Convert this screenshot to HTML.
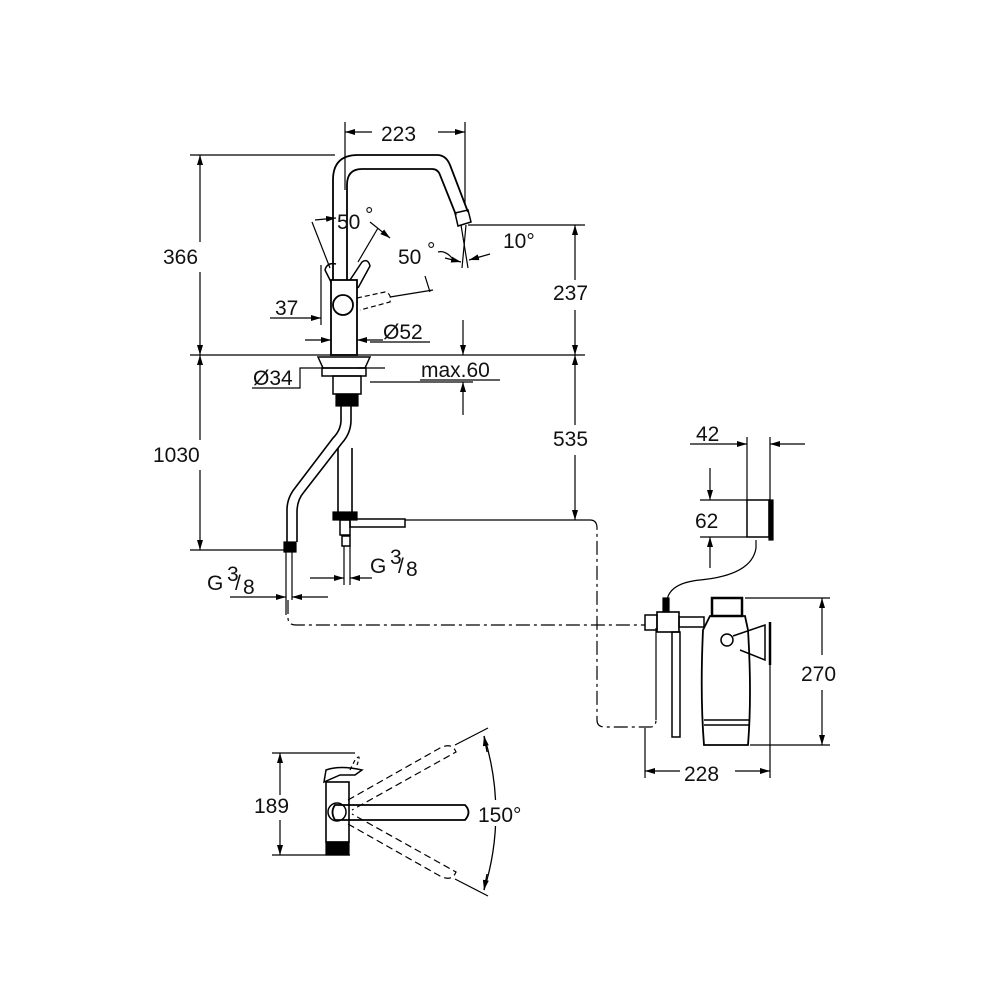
<!DOCTYPE html>
<html><head><meta charset="utf-8"><style>
html,body{margin:0;padding:0;background:#fff}
svg{display:block}
text{font-family:"Liberation Sans",sans-serif;font-size:21px;fill:#111}
</style></head><body>
<svg width="1000" height="1000" viewBox="0 0 1000 1000" xmlns="http://www.w3.org/2000/svg">
<defs>
<marker id="a" viewBox="0 0 10 6" refX="10" refY="3" markerWidth="10" markerHeight="6" markerUnits="userSpaceOnUse" orient="auto"><path d="M0,0L10,3L0,6z" fill="#000"/></marker>
</defs>
<g stroke="#000" stroke-width="1.2" fill="none">
<line x1="345" y1="122" x2="345" y2="190"/><line x1="465" y1="122" x2="465" y2="205"/>
<line x1="372" y1="132" x2="345" y2="132" marker-end="url(#a)"/>
<line x1="438" y1="132" x2="465" y2="132" marker-end="url(#a)"/>
<line x1="190" y1="155" x2="335" y2="155"/>
<line x1="200" y1="242" x2="200" y2="155" marker-end="url(#a)"/>
<line x1="200" y1="272" x2="200" y2="355" marker-end="url(#a)"/>
<line x1="200" y1="440" x2="200" y2="355" marker-end="url(#a)"/>
<line x1="200" y1="470" x2="200" y2="550" marker-end="url(#a)"/>
<line x1="190" y1="550" x2="290" y2="550"/>
<line x1="190" y1="355" x2="585" y2="355"/>
<line x1="468" y1="225" x2="585" y2="225"/>
<line x1="575" y1="280" x2="575" y2="225" marker-end="url(#a)"/>
<line x1="575" y1="310" x2="575" y2="355" marker-end="url(#a)"/>
<line x1="575" y1="425" x2="575" y2="355" marker-end="url(#a)"/>
<line x1="575" y1="455" x2="575" y2="520" marker-end="url(#a)"/>
<line x1="463" y1="320" x2="463" y2="355" marker-end="url(#a)"/>
<line x1="463" y1="415" x2="463" y2="382" marker-end="url(#a)"/>
<line x1="370" y1="382" x2="473" y2="382"/>
<line x1="420" y1="380" x2="500" y2="380"/>
<polyline points="252,388 300,388 300,368 322,368"/>
<line x1="358" y1="368" x2="385" y2="368"/>
<line x1="305" y1="340" x2="331" y2="340" marker-end="url(#a)"/>
<line x1="383" y1="340" x2="357" y2="340" marker-end="url(#a)"/>
<line x1="370" y1="342" x2="430" y2="342"/>
<line x1="270" y1="318" x2="321" y2="318" marker-end="url(#a)"/>
<line x1="321" y1="265" x2="321" y2="325"/>
<path d="M333,280 V180 Q333,155 358,155 H437 Q446,155 450,165 L468,212 M347,280 V185 Q347,169 362,169 H432 Q438,169 440,175 L456,215" stroke-width="1.8"/>
<path d="M455,213 L468,210 L471,222 L458,226 Z" stroke-width="1.5"/>
<rect x="331" y="280" width="26" height="75" stroke-width="1.8"/>
<circle cx="343" cy="305" r="10" stroke-width="1.8"/>
<path d="M350,280 L362,262 Q368,258 370,266 L358,288" stroke-width="1.5"/>
<path d="M331,282 L325,270 Q327,262 336,264" stroke-width="1.5"/>
<path d="M357,298 L385,292 Q392,294 390,302 L360,310" stroke-dasharray="5,3"/>
<line x1="312" y1="222" x2="330" y2="268"/>
<line x1="378" y1="228" x2="358" y2="262"/>
<line x1="315" y1="220" x2="336" y2="218" marker-end="url(#a)"/>
<line x1="370" y1="222" x2="390" y2="238" marker-end="url(#a)"/>
<line x1="390" y1="297" x2="433" y2="290"/><line x1="425" y1="276" x2="430" y2="292"/>
<line x1="461" y1="225" x2="468" y2="268"/><line x1="466" y1="225" x2="462" y2="268"/>
<path d="M438,252 Q445,250 452,258" /><line x1="445" y1="258" x2="461" y2="262" marker-end="url(#a)"/>
<line x1="490" y1="254" x2="469" y2="260" marker-end="url(#a)"/>
<path d="M318,357 H370 L365,368 H323 Z" stroke-width="1.5"/>
<rect x="322" y="368" width="44" height="8" stroke-width="1.5"/>
<rect x="333" y="376" width="28" height="18" stroke-width="1.5"/>
<rect x="336" y="394" width="22" height="12" fill="#000"/>
<path d="M341,406 V420 Q341,430 333,438 L295,488 Q287,498 287,510 V542 M351,406 V420 Q351,433 342,443 L304,492 Q297,500 297,512 V542" stroke-width="1.6"/>
<rect x="284" y="542" width="12" height="10" fill="#000"/>
<line x1="338" y1="448" x2="338" y2="512" stroke-width="1.6"/><line x1="352" y1="448" x2="352" y2="512" stroke-width="1.6"/>
<rect x="333" y="512" width="24" height="8" fill="#000"/>
<rect x="340" y="520" width="10" height="15" stroke-width="1.5"/>
<rect x="342" y="536" width="8" height="10" stroke-width="1.5"/>
<line x1="344" y1="546" x2="344" y2="585"/><line x1="350" y1="546" x2="350" y2="585"/>
<rect x="350" y="519" width="55" height="8" stroke-width="1.5"/>
<line x1="405" y1="520" x2="590" y2="520"/>
<path d="M590,520 Q597,520 597,528 V720 Q597,727 605,727 H650 Q656,727 656,720" stroke-dasharray="14,4,3,4"/>
<line x1="286" y1="552" x2="286" y2="615"/><line x1="292" y1="552" x2="292" y2="600"/>
<path d="M288,600 V618 Q288,625 296,625 H645" stroke-dasharray="14,4,3,4"/>
<line x1="230" y1="597" x2="286" y2="597" marker-end="url(#a)"/>
<line x1="328" y1="597" x2="292" y2="597" marker-end="url(#a)"/>
<line x1="310" y1="578" x2="344" y2="578" marker-end="url(#a)"/>
<line x1="372" y1="578" x2="350" y2="578" marker-end="url(#a)"/>
<line x1="747" y1="437" x2="747" y2="500"/><line x1="770" y1="437" x2="770" y2="500"/>
<line x1="690" y1="444" x2="747" y2="444" marker-end="url(#a)"/>
<line x1="805" y1="444" x2="770" y2="444" marker-end="url(#a)"/>
<line x1="700" y1="500" x2="747" y2="500"/><line x1="700" y1="537" x2="747" y2="537"/>
<line x1="710" y1="468" x2="710" y2="500" marker-end="url(#a)"/>
<line x1="710" y1="568" x2="710" y2="537" marker-end="url(#a)"/>
<rect x="747" y="500" width="22" height="37" stroke-width="1.5"/>
<rect x="769" y="500" width="4" height="40" fill="#000"/>
<path d="M756,540 V548 Q752,575 700,580 Q670,583 667,600"/>
<rect x="712" y="598" width="30" height="18" stroke-width="2.5"/>
<path d="M710,616 H745 L748,630 Q752,695 748,745 H704 Q700,695 703,630 Z" stroke-width="1.8"/>
<line x1="704" y1="720" x2="749" y2="720" stroke-width="1.5"/><line x1="704" y1="725" x2="749" y2="725" stroke-width="1.5"/>
<circle cx="727" cy="640" r="6" stroke-width="1.5"/>
<path d="M733,636 L765,625 V660 L740,650" stroke-width="1.5"/>
<line x1="770" y1="622" x2="770" y2="665" stroke-width="2.5"/>
<rect x="645" y="615" width="12" height="15" stroke-width="1.5"/>
<rect x="657" y="612" width="22" height="20" stroke-width="1.6"/>
<rect x="679" y="617" width="25" height="10" stroke-width="1.5"/>
<rect x="663" y="598" width="6" height="14" fill="#000"/>
<rect x="672" y="632" width="8" height="105" stroke-width="1.5"/>
<line x1="656" y1="628" x2="656" y2="720"/>
<line x1="745" y1="598" x2="830" y2="598"/><line x1="750" y1="745" x2="830" y2="745"/>
<line x1="822" y1="655" x2="822" y2="598" marker-end="url(#a)"/>
<line x1="822" y1="690" x2="822" y2="745" marker-end="url(#a)"/>
<line x1="645" y1="728" x2="645" y2="778"/><line x1="770" y1="665" x2="770" y2="778"/>
<line x1="680" y1="771" x2="645" y2="771" marker-end="url(#a)"/>
<line x1="735" y1="771" x2="770" y2="771" marker-end="url(#a)"/>
<line x1="272" y1="753" x2="355" y2="753"/><line x1="272" y1="855" x2="350" y2="855"/>
<line x1="280" y1="795" x2="280" y2="753" marker-end="url(#a)"/>
<line x1="280" y1="820" x2="280" y2="855" marker-end="url(#a)"/>
<rect x="326" y="782" width="23" height="60" stroke-width="1.6"/>
<rect x="326" y="842" width="23" height="13" fill="#000"/>
<path d="M324,782 L326,770 Q340,765 362,770 L355,775 H340 Z" stroke-width="1.5"/>
<path d="M335,805 Q330,812 335,820 H465 Q472,812 465,805 Z" stroke-width="1.8"/>
<circle cx="337" cy="812" r="9" stroke-width="1.5"/>
<path d="M348,800 L440,748 Q452,742 456,752 L352,810 M348,824 L440,876 Q452,882 456,872 L352,814" stroke-dasharray="7,4"/>
<path d="M350,770 L355,760 Q362,752 357,765" stroke-dasharray="4,3"/>
<line x1="455" y1="745" x2="488" y2="728"/><line x1="455" y1="879" x2="488" y2="896"/>
<path d="M484,736 A256,256 0 0,1 484,890" stroke-width="1.3"/>
<line x1="487" y1="752" x2="484" y2="736" marker-end="url(#a)"/>
<line x1="487" y1="874" x2="484" y2="890" marker-end="url(#a)"/>
</g>
<rect x="478" y="800" width="48" height="26" fill="#fff"/>
<text x="381" y="141">223</text>
<text x="163" y="264">366</text>
<text x="153" y="462">1030</text>
<text x="553" y="300">237</text>
<text x="553" y="446">535</text>
<text x="337" y="229">50</text><text x="365" y="222" font-size="15">°</text>
<text x="398" y="264">50</text><text x="427" y="257" font-size="15">°</text>
<text x="503" y="248">10°</text>
<text x="275" y="315">37</text>
<text x="383" y="339">Ø52</text>
<text x="253" y="385">Ø34</text>
<text x="421" y="377">max.60</text>
<text x="207" y="590">G</text><text x="227" y="581" font-size="15">3</text><text x="235" y="590" font-size="16">/</text><text x="243" y="594" font-size="14">8</text>
<text x="370" y="573">G</text><text x="390" y="564" font-size="15">3</text><text x="398" y="573" font-size="16">/</text><text x="406" y="576" font-size="14">8</text>
<text x="696" y="441">42</text>
<text x="695" y="528">62</text>
<text x="801" y="681">270</text>
<text x="684" y="781">228</text>
<text x="254" y="813">189</text>
<text x="478" y="822">150°</text>
</svg>
</body></html>
